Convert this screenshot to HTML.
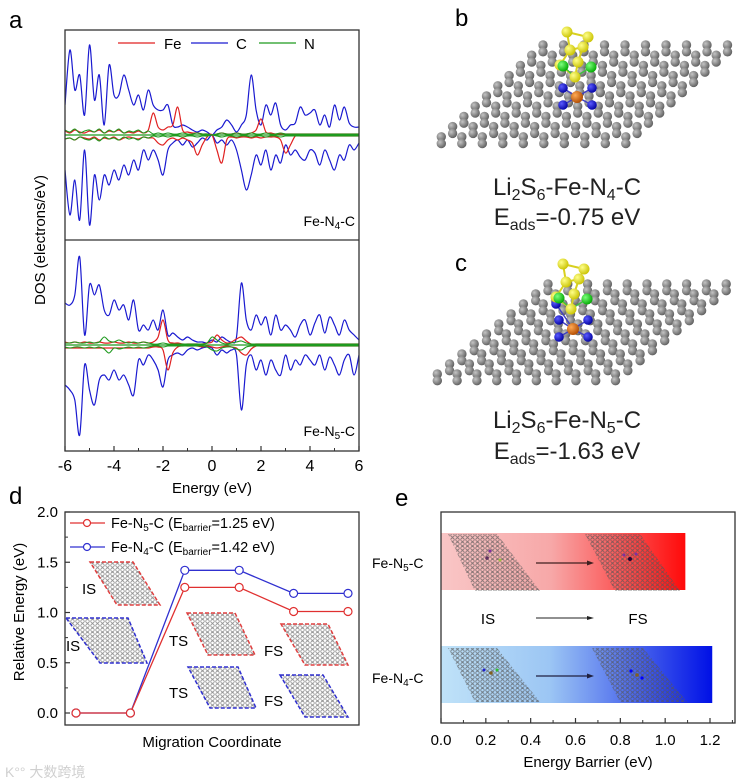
<!DOCTYPE html>
<html><head><meta charset="utf-8">
<style>
html,body{margin:0;padding:0;background:#fff;}
svg{display:block;font-family:"Liberation Sans","Noto Sans CJK SC",sans-serif;}
</style></head>
<body>
<svg id="fig" width="751" height="783" viewBox="0 0 751 783" xmlns="http://www.w3.org/2000/svg">
<defs>
<radialGradient id="ballC" cx="0.35" cy="0.35" r="0.7"><stop offset="0" stop-color="#c4c4c4"/><stop offset="1" stop-color="#5c5c5c"/></radialGradient>
<radialGradient id="ballS" cx="0.35" cy="0.35" r="0.7"><stop offset="0" stop-color="#ffff8a"/><stop offset="1" stop-color="#c9c200"/></radialGradient>
<radialGradient id="ballLi" cx="0.35" cy="0.35" r="0.7"><stop offset="0" stop-color="#7dff7d"/><stop offset="1" stop-color="#00a800"/></radialGradient>
<radialGradient id="ballN" cx="0.35" cy="0.35" r="0.7"><stop offset="0" stop-color="#5a5aff"/><stop offset="1" stop-color="#0000a0"/></radialGradient>
<radialGradient id="ballFe" cx="0.35" cy="0.35" r="0.7"><stop offset="0" stop-color="#ffaa55"/><stop offset="1" stop-color="#b04a00"/></radialGradient>
<pattern id="hex" width="5" height="4.3" patternUnits="userSpaceOnUse">
<circle cx="2.5" cy="2.1" r="1.7" fill="none" stroke="#777" stroke-width="0.7"/>
</pattern>
<pattern id="hexDark" width="5" height="4.3" patternUnits="userSpaceOnUse">
<circle cx="2.5" cy="2.1" r="1.7" fill="none" stroke="#555" stroke-width="0.8"/>
</pattern>
<linearGradient id="gradRed" x1="0" x2="1" y1="0" y2="0"><stop offset="0" stop-color="#f9c6c6"/><stop offset="0.45" stop-color="#f7a8a8"/><stop offset="1" stop-color="#ff0a0a"/></linearGradient>
<linearGradient id="gradBlue" x1="0" x2="1" y1="0" y2="0"><stop offset="0" stop-color="#bfe2f8"/><stop offset="0.4" stop-color="#9cc6f4"/><stop offset="1" stop-color="#0010e6"/></linearGradient>
<clipPath id="clipA1"><rect x="65" y="30" width="294" height="210"/></clipPath>
<clipPath id="clipA2"><rect x="65" y="240" width="294" height="211"/></clipPath>
</defs>

<text x="9" y="28" font-size="24">a</text>
<text x="455" y="26" font-size="24">b</text>
<text x="455" y="271" font-size="24">c</text>
<text x="9" y="504" font-size="24">d</text>
<text x="395" y="506" font-size="24">e</text>

<g id="panelA">
<g id="dosTop" clip-path="url(#clipA1)"></g>
<g id="dosBot" clip-path="url(#clipA2)"></g>
<rect x="65" y="30" width="294" height="421" fill="none" stroke="#333" stroke-width="1.3"/>
<line x1="65" y1="240" x2="359" y2="240" stroke="#333" stroke-width="1.3"/>
<g id="dosTicks"></g>
<text x="212" y="493" font-size="15" text-anchor="middle">Energy (eV)</text>
<text transform="translate(45,240) rotate(-90)" font-size="15" text-anchor="middle">DOS (electrons/eV)</text>
<g>
<line x1="118" y1="43" x2="155" y2="43" stroke="#e02020" stroke-width="1.3"/>
<text x="164" y="49" font-size="15">Fe</text>
<line x1="191" y1="43" x2="228" y2="43" stroke="#1a1ad0" stroke-width="1.3"/>
<text x="236" y="49" font-size="15">C</text>
<line x1="259" y1="43" x2="296" y2="43" stroke="#1e9a1e" stroke-width="1.3"/>
<text x="304" y="49" font-size="15">N</text>
</g>
<text x="355" y="226" font-size="14" text-anchor="end">Fe-N<tspan font-size="10" dy="3">4</tspan><tspan dy="-3">-C</tspan></text>
<text x="355" y="436" font-size="14" text-anchor="end">Fe-N<tspan font-size="10" dy="3">5</tspan><tspan dy="-3">-C</tspan></text>
</g>

<g id="sheetB"></g>
<g id="sheetC"></g>
<text x="567" y="195" font-size="24" text-anchor="middle" fill="#222">Li<tspan font-size="16" dy="5">2</tspan><tspan dy="-5">S</tspan><tspan font-size="16" dy="5">6</tspan><tspan dy="-5">-Fe-N</tspan><tspan font-size="16" dy="5">4</tspan><tspan dy="-5">-C</tspan></text>
<text x="567" y="225" font-size="24" text-anchor="middle" fill="#222">E<tspan font-size="16" dy="5">ads</tspan><tspan dy="-5">=-0.75 eV</tspan></text>
<text x="567" y="428" font-size="24" text-anchor="middle" fill="#222">Li<tspan font-size="16" dy="5">2</tspan><tspan dy="-5">S</tspan><tspan font-size="16" dy="5">6</tspan><tspan dy="-5">-Fe-N</tspan><tspan font-size="16" dy="5">5</tspan><tspan dy="-5">-C</tspan></text>
<text x="567" y="459" font-size="24" text-anchor="middle" fill="#222">E<tspan font-size="16" dy="5">ads</tspan><tspan dy="-5">=-1.63 eV</tspan></text>

<g id="panelD">
<g><polygon points="90,562 133,562 160,605 117,605" fill="url(#hex)" stroke="#e04040" stroke-width="1.5" stroke-dasharray="4,2"/></g>
<g><polygon points="66,618 128,618 147,663 100,663" fill="url(#hex)" stroke="#3030d0" stroke-width="1.5" stroke-dasharray="4,2"/></g>
<g><polygon points="187,613 235,613 255,655 208,655" fill="url(#hex)" stroke="#e04040" stroke-width="1.5" stroke-dasharray="4,2"/></g>
<g><polygon points="188,667 238,667 256,708 210,708" fill="url(#hex)" stroke="#3030d0" stroke-width="1.5" stroke-dasharray="4,2"/></g>
<g><polygon points="281,624 328,624 348,665 305,665" fill="url(#hex)" stroke="#e04040" stroke-width="1.5" stroke-dasharray="4,2"/></g>
<g><polygon points="280,675 323,675 348,717 305,717" fill="url(#hex)" stroke="#3030d0" stroke-width="1.5" stroke-dasharray="4,2"/></g>
<text x="82" y="594" font-size="15">IS</text>
<text x="66" y="651" font-size="15">IS</text>
<text x="169" y="646" font-size="15">TS</text>
<text x="169" y="698" font-size="15">TS</text>
<text x="264" y="656" font-size="15">FS</text>
<text x="264" y="706" font-size="15">FS</text>
<g id="dSeries"></g>
<rect x="65" y="512" width="294" height="213" fill="none" stroke="#333" stroke-width="1.3"/>
<g id="dTicks"></g>
<text transform="translate(24,612) rotate(-90)" font-size="15" text-anchor="middle">Relative Energy (eV)</text>
<text x="212" y="747" font-size="15" text-anchor="middle">Migration Coordinate</text>
<g>
<line x1="70" y1="523" x2="105" y2="523" stroke="#e03030" stroke-width="1.3"/>
<circle cx="87" cy="523" r="3.5" fill="#fff" stroke="#e03030" stroke-width="1.2"/>
<text x="111" y="528" font-size="14.5">Fe-N<tspan font-size="10" dy="3">5</tspan><tspan dy="-3">-C (E</tspan><tspan font-size="10" dy="3">barrier</tspan><tspan dy="-3">=1.25 eV)</tspan></text>
<line x1="70" y1="547" x2="105" y2="547" stroke="#3030d0" stroke-width="1.3"/>
<circle cx="87" cy="547" r="3.5" fill="#fff" stroke="#3030d0" stroke-width="1.2"/>
<text x="111" y="552" font-size="14.5">Fe-N<tspan font-size="10" dy="3">4</tspan><tspan dy="-3">-C (E</tspan><tspan font-size="10" dy="3">barrier</tspan><tspan dy="-3">=1.42 eV)</tspan></text>
</g>
</g>

<g id="panelE">
<g id="eBars"></g>
<polygon points="448,534 497,534 540,591 475,591" fill="url(#hexDark)" opacity="0.8"/>
<polygon points="585,534 640,534 680,591 615,591" fill="url(#hexDark)" opacity="0.8"/>
<polygon points="448,648 497,648 540,702 475,702" fill="url(#hexDark)" opacity="0.8"/>
<polygon points="592,648 643,648 687,702 620,702" fill="url(#hexDark)" opacity="0.8"/>
<circle cx="487" cy="558" r="1.8" fill="#603060"/><circle cx="490" cy="551" r="1.5" fill="#8030a0"/><circle cx="500" cy="560" r="1.5" fill="#a0c040"/>
<circle cx="630" cy="559" r="2" fill="#300030"/><circle cx="624" cy="555" r="1.5" fill="#8030a0"/><circle cx="636" cy="554" r="1.5" fill="#8030a0"/>
<circle cx="491" cy="673" r="1.8" fill="#806020"/><circle cx="484" cy="670" r="1.5" fill="#2020d0"/><circle cx="497" cy="670" r="1.5" fill="#30c030"/>
<circle cx="637" cy="675" r="1.8" fill="#806020"/><circle cx="631" cy="671" r="1.6" fill="#0000ff"/><circle cx="642" cy="678" r="1.6" fill="#0000ff"/>
<g><line x1="536" y1="563" x2="589" y2="563" stroke="#402020" stroke-width="1.3"/><polygon points="594,563 587,560.5 587,565.5" fill="#402020"/></g>
<g><line x1="536" y1="676" x2="589" y2="676" stroke="#202040" stroke-width="1.3"/><polygon points="594,676 587,673.5 587,678.5" fill="#202040"/></g>
<g><line x1="536" y1="618" x2="589" y2="618" stroke="#222" stroke-width="1"/><polygon points="594,618 587,616 587,620" fill="#222"/></g>
<text x="488" y="624" font-size="15" text-anchor="middle">IS</text>
<text x="638" y="624" font-size="15" text-anchor="middle">FS</text>
<rect x="441" y="512" width="294" height="211" fill="none" stroke="#333" stroke-width="1.3"/>
<g id="eTicks"></g>
<text x="372" y="568" font-size="14">Fe-N<tspan font-size="10" dy="3">5</tspan><tspan dy="-3">-C</tspan></text>
<text x="372" y="683" font-size="14">Fe-N<tspan font-size="10" dy="3">4</tspan><tspan dy="-3">-C</tspan></text>
<text x="588" y="767" font-size="15" text-anchor="middle">Energy Barrier (eV)</text>
</g>

<text x="5" y="777" font-size="14" fill="#d0d0d0">K°° 大数跨境</text>
</svg>

<script>
const dosEnergyStart = -6;
const dosEnergyStep = 0.2;
const dosTickLabels = ["-6","-4","-2","0","2","4","6"];
const dosTickValues = [-6,-4,-2,0,2,4,6];
const cTopUp = [30,85,45,60,20,90,35,60,10,70,40,40,60,45,30,40,25,45,30,25,25,30,10,8,10,8,5,3,5,3,0,5,8,15,10,3,10,20,60,25,10,30,20,32,10,5,10,12,28,20,22,25,10,20,8,30,15,28,12,8,8];
const cTopDn = [35,80,45,85,15,90,40,65,40,50,35,45,30,40,25,35,15,25,15,25,40,15,8,5,10,5,12,8,3,5,0,8,5,10,5,15,35,55,40,20,30,15,35,20,28,10,20,15,22,25,15,18,30,15,25,35,20,25,10,15,8];
const feTopUp = [4,2,5,3,2,4,3,5,2,4,3,5,2,3,2,4,2,5,22,8,5,8,10,28,5,3,2,2,1,1,0,1,2,1,1,2,1,1,2,5,16,3,2,1,1,1,1,1,1,1,1,1,1,1,1,1,1,1,1,1,1];
const feTopDn = [4,3,5,2,3,4,2,5,3,4,2,5,3,2,3,4,2,3,3,8,10,5,3,5,3,5,8,20,10,2,0,15,28,5,2,3,2,2,3,2,3,2,2,2,5,18,10,1,1,1,1,1,1,1,1,1,1,1,1,1,1];
const nTopUp = [5,3,6,2,4,5,3,6,2,5,3,6,2,4,3,5,2,4,1,2,1,2,1,1,2,1,1,2,1,1,0,1,2,1,1,2,1,1,2,1,1,2,1,1,2,1,1,1,1,1,1,1,1,1,1,1,1,1,1,1,1];
const nTopDn = [4,3,5,2,4,5,3,6,2,4,3,5,2,4,3,5,2,3,1,2,1,2,1,1,2,1,1,2,1,1,0,1,2,1,1,2,1,1,2,1,1,2,1,1,2,1,1,1,1,1,1,1,1,1,1,1,1,1,1,1,1];
const cBotUp = [42,40,50,88,10,60,50,60,35,30,45,35,40,25,45,15,20,15,25,15,35,10,12,8,5,8,5,3,3,2,5,3,8,5,3,8,62,25,15,30,20,28,10,30,15,20,15,8,20,25,10,22,30,12,28,20,10,25,15,10,5];
const cBotDn = [40,45,55,90,20,45,60,35,30,35,25,35,30,40,50,15,20,10,15,25,42,15,10,8,10,5,3,5,3,2,3,10,5,8,5,10,65,20,10,25,15,30,15,25,30,10,25,15,20,10,15,20,10,25,12,20,30,15,10,30,10];
const feBotUp = [3,2,3,2,3,2,2,3,2,2,3,2,2,3,2,2,3,2,3,8,25,5,2,2,1,1,1,1,1,2,3,10,5,2,3,6,8,4,1,1,1,1,1,1,1,1,1,1,1,1,1,1,1,1,1,1,1,1,1,1,1];
const feBotDn = [3,3,3,3,3,3,3,3,3,3,3,3,3,3,3,3,3,3,2,2,5,25,8,2,1,1,1,1,2,1,2,3,2,1,2,3,8,10,4,1,1,1,1,1,1,1,1,1,1,1,1,1,1,1,1,1,1,1,1,1,1];
const nBotUp = [2,2,3,2,2,3,2,3,8,4,3,5,3,2,3,2,3,2,1,1,2,1,1,1,1,1,1,1,1,2,8,5,2,1,2,3,4,2,1,1,1,1,1,1,1,1,1,1,1,1,1,1,1,1,1,1,1,1,1,1,1];
const nBotDn = [2,3,2,2,3,2,3,2,4,8,3,4,3,2,3,2,3,2,1,1,2,1,1,1,1,1,1,1,1,2,5,6,3,2,2,4,5,2,1,1,1,1,1,1,1,1,1,1,1,1,1,1,1,1,1,1,1,1,1,1,1];

const migStates = ["IS","IS","TS","TS","FS","FS"];
const migN5 = [0,0,1.25,1.25,1.01,1.01];
const migN4 = [0,0,1.42,1.42,1.19,1.19];
const migTickValues = [0,0.5,1.0,1.5,2.0];
const migTickLabels = ["0.0","0.5","1.0","1.5","2.0"];

const barrierCats = ["Fe-N5-C","Fe-N4-C"];
const barrierValues = [1.09,1.21];
const barrierTickValues = [0,0.2,0.4,0.6,0.8,1.0,1.2];
const barrierTickLabels = ["0.0","0.2","0.4","0.6","0.8","1.0","1.2"];

const NS = "http://www.w3.org/2000/svg";
function mk(tag, attrs, parent){
  const e = document.createElementNS(NS, tag);
  for (const k in attrs) e.setAttribute(k, attrs[k]);
  parent.appendChild(e);
  return e;
}

const dosX = e => 65 + (e + 6) / 12 * 294;
const dosScale = 1.0;
function smoothPath(p){
  let d = "M" + p[0][0].toFixed(1) + "," + p[0][1].toFixed(1);
  for (let i = 0; i < p.length - 1; i++) {
    const p0 = p[Math.max(0,i-1)], p1 = p[i], p2 = p[i+1], p3 = p[Math.min(p.length-1,i+2)];
    const c1x = p1[0] + (p2[0]-p0[0])/6, c1y = p1[1] + (p2[1]-p0[1])/6;
    const c2x = p2[0] - (p3[0]-p1[0])/6, c2y = p2[1] - (p3[1]-p1[1])/6;
    d += " C" + c1x.toFixed(1)+","+c1y.toFixed(1)+" "+c2x.toFixed(1)+","+c2y.toFixed(1)+" "+p2[0].toFixed(1)+","+p2[1].toFixed(1);
  }
  return d;
}
function drawDos(group, base, arr, sign, color, width, name){
  const pts = arr.map((v,i) => [dosX(dosEnergyStart + i*dosEnergyStep), base - sign*v*dosScale]);
  const pl = mk("path", {d: smoothPath(pts), fill: "none", stroke: color, "stroke-width": width, "stroke-linejoin": "round"}, group);
  
  
}
const gTop = document.getElementById("dosTop");
const gBot = document.getElementById("dosBot");
drawDos(gTop,135,cTopUp,1,"#1a1ad0",1.2,"c-dos-up-n4");
drawDos(gTop,135,cTopDn,-1,"#1a1ad0",1.2,"c-dos-down-n4");
drawDos(gTop,135,feTopUp,1,"#e02020",1.2,"fe-dos-up-n4");
drawDos(gTop,135,feTopDn,-1,"#e02020",1.2,"fe-dos-down-n4");
drawDos(gTop,135,nTopUp,1,"#1e9a1e",1.1,"n-dos-up-n4");
drawDos(gTop,135,nTopDn,-1,"#1e9a1e",1.1,"n-dos-down-n4");
drawDos(gBot,345,cBotUp,1,"#1a1ad0",1.2,"c-dos-up-n5");
drawDos(gBot,345,cBotDn,-1,"#1a1ad0",1.2,"c-dos-down-n5");
drawDos(gBot,345,feBotUp,1,"#e02020",1.2,"fe-dos-up-n5");
drawDos(gBot,345,feBotDn,-1,"#e02020",1.2,"fe-dos-down-n5");
drawDos(gBot,345,nBotUp,1,"#1e9a1e",1.1,"n-dos-up-n5");
drawDos(gBot,345,nBotDn,-1,"#1e9a1e",1.1,"n-dos-down-n5");
const zl1 = mk("line",{x1:65,y1:135,x2:359,y2:135,stroke:"#1e9a1e","stroke-width":1.2},gTop);


const zl2 = mk("line",{x1:65,y1:345,x2:359,y2:345,stroke:"#1e9a1e","stroke-width":1.2},gBot);



const gDT = document.getElementById("dosTicks");
dosTickValues.forEach((v,i) => {
  const x = dosX(v);
  mk("line",{x1:x,y1:451,x2:x,y2:446,stroke:"#333","stroke-width":1.2},gDT);
  const t = mk("text",{x:x,y:471,"font-size":16,"text-anchor":"middle"},gDT);
  t.textContent = dosTickLabels[i];
  
  
  if (i < dosTickValues.length-1) {
    const xm = dosX(v+1);
    mk("line",{x1:xm,y1:451,x2:xm,y2:448,stroke:"#333","stroke-width":1},gDT);
  }
});

const migX = i => 76 + i * 54.4;
const migY = v => 713 - v / 2 * 201;
const gD = document.getElementById("dSeries");
function drawMig(arr, color, name){
  const pts = arr.map((v,i) => migX(i).toFixed(1)+","+migY(v).toFixed(1)).join(" ");
  const pl = mk("polyline",{points:pts,fill:"none",stroke:color,"stroke-width":1.3},gD);
  
  
  arr.forEach((v,i) => {
    const c = mk("circle",{cx:migX(i),cy:migY(v),r:4,fill:"#fff",stroke:color,"stroke-width":1.2},gD);
    
    
  });
}
drawMig(migN4,"#3030d0","fe-n4-c");
drawMig(migN5,"#e03030","fe-n5-c");
const gDTk = document.getElementById("dTicks");
migTickValues.forEach((v,i) => {
  const y = migY(v);
  mk("line",{x1:65,y1:y,x2:70,y2:y,stroke:"#333","stroke-width":1.2},gDTk);
  const t = mk("text",{x:58,y:y+5,"font-size":15,"text-anchor":"end"},gDTk);
  t.textContent = migTickLabels[i];
  
  
  if (i < migTickValues.length-1) {
    const ym = migY(v+0.25);
    mk("line",{x1:65,y1:ym,x2:68,y2:ym,stroke:"#333","stroke-width":1},gDTk);
  }
});

const barX = v => 441 + v / 1.2 * 269;
const barY = [533, 646];
const barH = 57;
const gE = document.getElementById("eBars");
barrierValues.forEach((v,i) => {
  const r = mk("rect",{x:441,y:barY[i],width:barX(v)-441,height:barH,fill:i===0?"url(#gradRed)":"url(#gradBlue)"},gE);
  
  
});
const gET = document.getElementById("eTicks");
barrierTickValues.forEach((v,i) => {
  const x = barX(v);
  mk("line",{x1:x,y1:723,x2:x,y2:718,stroke:"#333","stroke-width":1.2},gET);
  const t = mk("text",{x:x,y:745,"font-size":15,"text-anchor":"middle"},gET);
  t.textContent = barrierTickLabels[i];
  
  
  const xm = barX(v+0.1);
  if (xm < 735) mk("line",{x1:xm,y1:723,x2:xm,y2:720,stroke:"#333","stroke-width":1},gET);
});

// graphene sheet: honeycomb on squashed hexagonal lattice
function sheet(g, xTL, yT, xBL, width, height, n5, dx, dy){
  const n = 10;
  const a = width / n;
  const h = height / n;
  const sx = (xTL - xBL) / n;
  const bond = h * 0.667;
  const atoms = [];
  for (let j = 0; j < n; j++) {
    for (let i = 0; i < n; i++) {
      const ox = xTL + i*a - j*sx + 5, oy = yT + j*h + 3;
      atoms.push([ox, oy]);
      atoms.push([ox, oy + bond]);
    }
  }
  atoms.sort((p,q) => p[1]-q[1]);
  atoms.forEach(p => mk("circle",{cx:p[0].toFixed(1),cy:p[1].toFixed(1),r:4.7,fill:"url(#ballC)"},g));
  const fx = 577 + dx, fy = 97 + dy;
  const S = [[567,32],[588,37],[570,50],[583,47],[560,65],[578,62],[575,77]];
  const bonds = [[0,1],[0,2],[1,3],[2,4],[3,5],[4,6],[5,6],[2,3]];
  const N = n5 ? [[563,88],[592,88],[563,105],[592,105],[560,72]] : [[563,88],[592,88],[563,105],[592,105]];
  N.forEach(p => { mk("line",{x1:fx,y1:fy,x2:p[0]+dx,y2:p[1]+dy,stroke:"#4040c0","stroke-width":1.5},g); });
  N.forEach(p => mk("circle",{cx:p[0]+dx,cy:p[1]+dy,r:4.8,fill:"url(#ballN)"},g));
  mk("circle",{cx:fx,cy:fy,r:6,fill:"url(#ballFe)"},g);
  bonds.forEach(b => mk("line",{x1:S[b[0]][0]+dx,y1:S[b[0]][1]+dy,x2:S[b[1]][0]+dx,y2:S[b[1]][1]+dy,stroke:"#d8d020","stroke-width":2},g));
  [[563,66],[591,67]].forEach(p => { mk("line",{x1:p[0]+dx,y1:p[1]+dy,x2:575+dx,y2:77+dy,stroke:"#40c040","stroke-width":1.5},g); });
  S.forEach(p => mk("circle",{cx:p[0]+dx,cy:p[1]+dy,r:5.5,fill:"url(#ballS)"},g));
  [[563,66],[591,67]].forEach(p => mk("circle",{cx:p[0]+dx,cy:p[1]+dy,r:5.5,fill:"url(#ballLi)"},g));
}
sheet(document.getElementById("sheetB"), 538, 42, 425, 205, 102, false, 0, 0);
sheet(document.getElementById("sheetC"), 543, 281, 420, 198, 100, true, -4, 232);
</script>
</body></html>
